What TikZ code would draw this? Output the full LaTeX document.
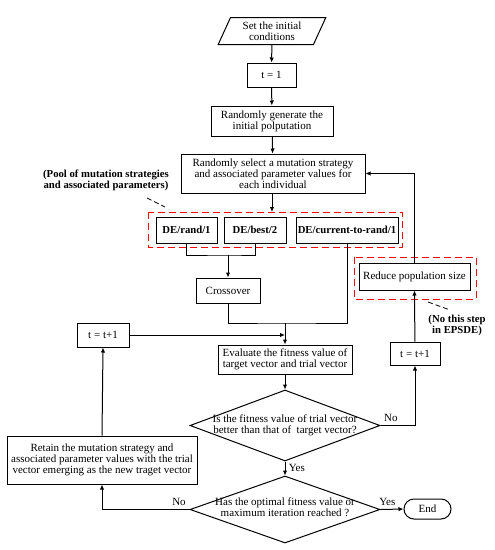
\documentclass[tikz,border=0pt]{standalone}
\usepackage{fontspec}
\setmainfont{Liberation Serif}
\usetikzlibrary{calc}
\usetikzlibrary{arrows.meta}
\usetikzlibrary{shapes.geometric}
\usetikzlibrary{shapes.misc}
\newcommand*{\lw    }{1pt}
\newcommand*{\dwd   }{190pt}
\newcommand*{\txtsz }{\fontsize{11}{11}\selectfont}
\newcommand*{\lblsz }{\fontsize{10.7}{11}\selectfont\bfseries}

\begin{document}
\begin{tikzpicture}[x=1pt, y=-1pt, font=\txtsz, line width=\lw,
        box/.style  = {draw, rectangle, align=center, inner sep=0.5pt},
        arr/.style  = {-{Latex[length=5pt,width=4.5pt]}},
        pool/.style = {draw=red, line width=1pt, dash pattern=on 7pt off 4pt},
        lead/.style = {line width=0.8pt, dash pattern=on 5pt off 3pt}]
    \useasboundingbox (0,0) rectangle (495,550);
        \node [draw, trapezium, trapezium left angle=65, trapezium right angle=115, trapezium stretches=true,
               minimum width=108pt, minimum height=27pt, inner sep=0pt, align=center] (start) at (272,31) {Set the initial\\conditions};
        \node [box, minimum width=49pt,  minimum height=24pt] (tone)   at (271.5,75)  {t = 1};
        \node [box, minimum width=122pt, minimum height=30pt] (gen)    at (272,121)   {Randomly generate the\\initial polputation};
        \node [box, minimum width=184pt, minimum height=39pt] (sel)    at (273,173.5) {Randomly select a mutation strategy\\and associated parameter values for\\each individual};
        \node [box, minimum width=61pt,  minimum height=26pt, font=\lblsz] (rand) at (186.5,230) {DE/rand/1};
        \node [box, minimum width=62pt,  minimum height=26pt, font=\lblsz] (best) at (255,230)   {DE/best/2};
        \node [box, minimum width=102pt, minimum height=26pt, font=\lblsz] (cur)  at (347,230)   {DE/current-to-rand/1};
        \node [box, minimum width=64pt,  minimum height=25pt] (cross)  at (228,290.5) {Crossover};
        \node [box, minimum width=52pt,  minimum height=24pt] (tleft)  at (103,335)   {t = t+1};
        \node [box, minimum width=134pt, minimum height=29pt] (eval)   at (285,359.5) {Evaluate the fitness value of\\target vector and trial vector};
        \node [box, minimum width=50pt,  minimum height=23pt] (tright) at (415,353.5) {t = t+1};
        \node [box, minimum width=111pt, minimum height=27pt] (reduce) at (414.5,276.5) {Reduce population size};
        \node [box, minimum width=190pt, minimum height=48pt] (retain) at (102,460)   {Retain the mutation strategy and\\associated parameter values with the trial\\vector emerging as the new traget vector};
        \node [draw, diamond, minimum width=\dwd, minimum height=71pt, inner sep=0pt,
               label={[align=center]center:Is the fitness value of trial vector\\better than that of\ \ target vector?}] (better) at (285,425.5) {};
        \node [draw, diamond, minimum width=\dwd, minimum height=67pt, inner sep=0pt,
               label={[align=center, yshift=2pt]center:Has the optimal fitness value or\\maximum iteration reached ?}] (reach) at (285,509.5) {};
        \node [draw, rounded rectangle, minimum width=49pt, minimum height=20pt, inner sep=1pt] (stop) at (427.5,509) {End};
        \node [font=\lblsz, align=center] (poolnote) at (106,180) {(Pool of mutation strategies\\and associated parameters)};
        \node [font=\lblsz, align=center] (epsde)    at (457,325) {(No this step\\in EPSDE)};
        \coordinate (pooltop) at (272,212);
        \coordinate (jone)    at (228,255);
        \coordinate (jtwo)    at (285,323);
        % red dashed groups
        \draw [pool] (148,212) rectangle (402,247);
        \draw [pool] (354,257) rectangle (476,299);
        \draw [lead] (147,198) -- (165,207);
        \draw [lead] (428,302) -- (450,310);
        % flow
        \draw [arr] (start) -- (tone);
        \draw [arr] (tone) -- (gen);
        \draw [arr] (gen) -- (sel);
        \draw [arr] (sel.south -| pooltop) -- (pooltop);
        \draw (rand.south) |- (jone) -| (best.south);
        \draw [arr] (jone) -- (cross.north);
        \draw (cross.south) |- (jtwo) -| (cur.south);
        \draw [arr] (jtwo) -- (eval.north);
        \draw [arr] (tleft.east) -- (tleft.east -| eval.north);
        \draw [arr] (eval) -- (better.north);
        \draw [arr] (better.south) -- node [right, pos=0.45] {Yes} (reach.north);
        \draw [arr] (better.east) -| node [above, pos=0.15] {No} (tright.south);
        \draw [arr] (tright) -- (reduce.south);
        \draw [arr] (reduce.north) |- (sel.east);
        \draw [arr] (reach.east) -- node [above, pos=0.3] {Yes} (stop.west);
        \draw [arr] (reach.west) -| node [above, pos=0.06] {No} (retain.south);
        \draw [arr] (retain.north) -- (tleft.south);
        %\draw [help lines] (0,0) grid[step=50pt] (495,550);
    \end{tikzpicture}
\end{document}
